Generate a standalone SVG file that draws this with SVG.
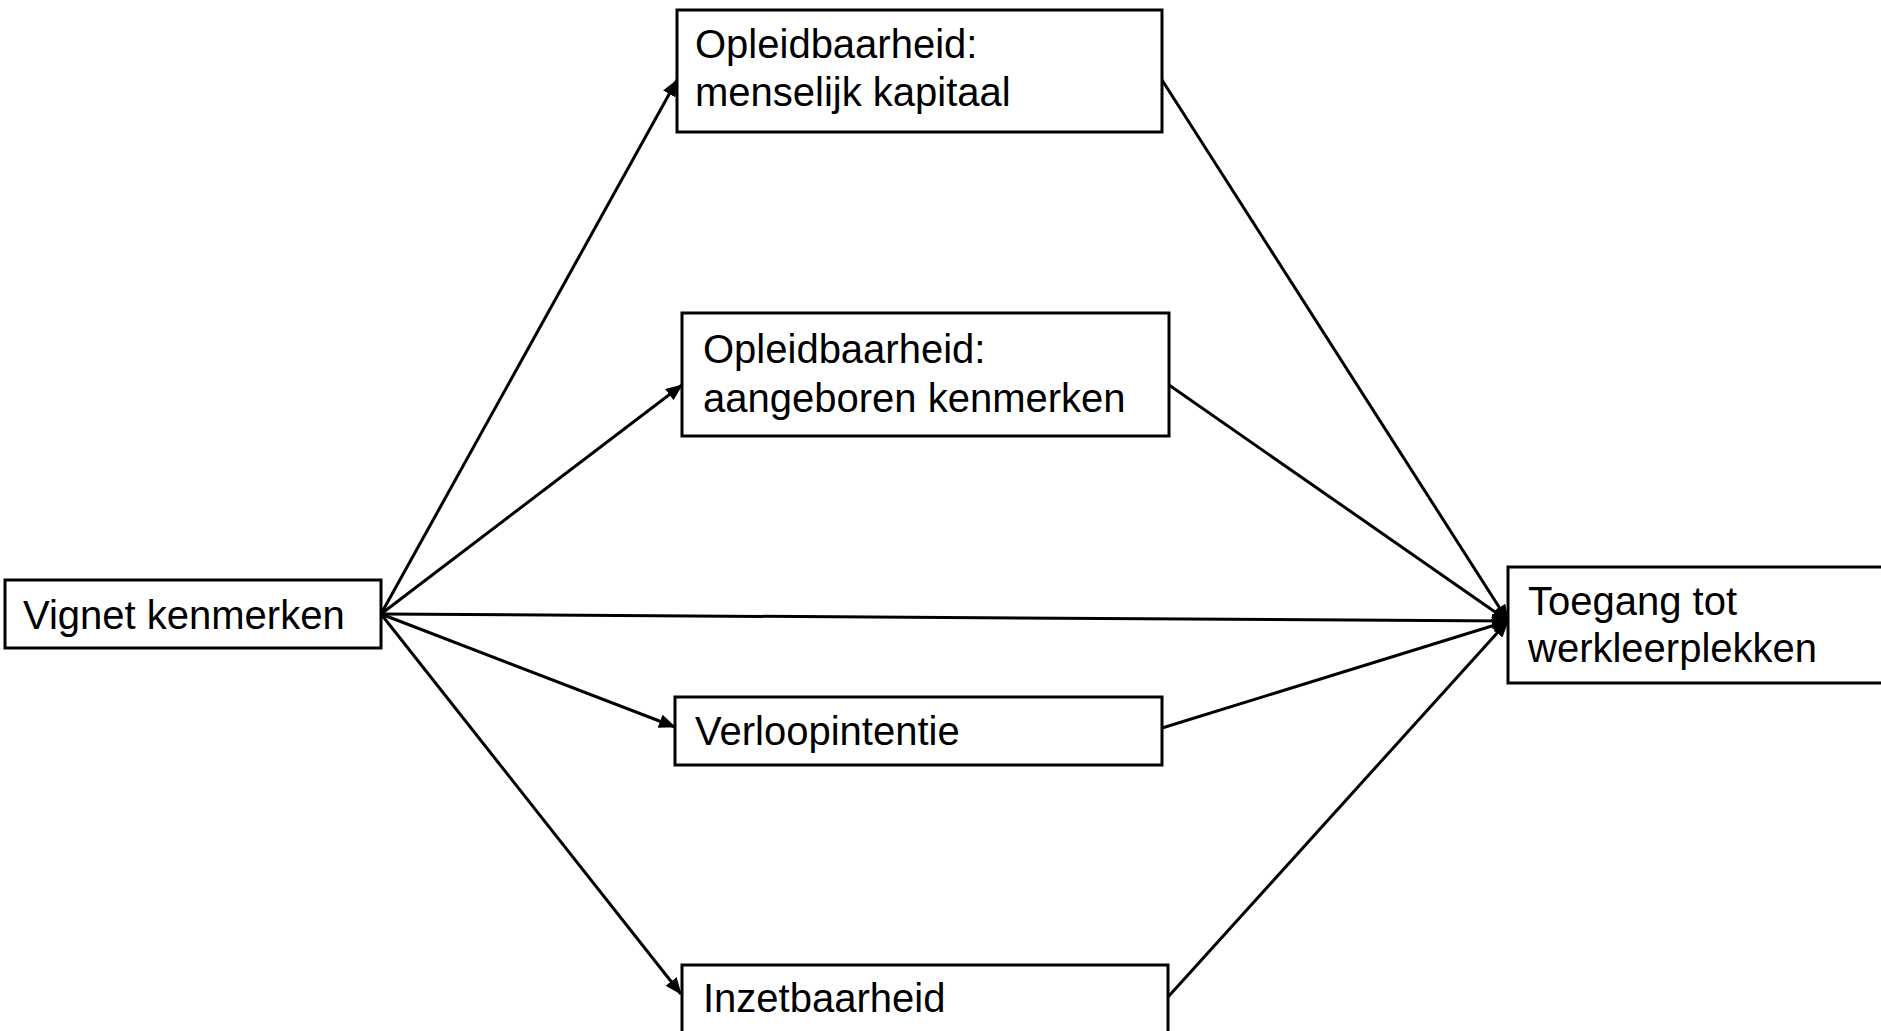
<svg xmlns="http://www.w3.org/2000/svg" width="1881" height="1031" viewBox="0 0 1881 1031">
<style>
.box{fill:#fff;stroke:#000;stroke-width:3}
.t{font-family:"Liberation Sans",Arial,sans-serif;font-size:40px;fill:#000}
.c{stroke:#000;stroke-width:3;fill:none;marker-end:url(#ah)}
</style>
<defs>
<marker id="ah" markerUnits="userSpaceOnUse" markerWidth="18" markerHeight="14" refX="16" refY="7" orient="auto">
<path d="M0,0 L17,7 L0,14 Z" fill="#000"/>
</marker>
</defs>
<rect width="1881" height="1031" fill="#fff"/>
<g id="connectors">
<line class="c" x1="381" y1="614" x2="677" y2="80"/>
<line class="c" x1="381" y1="614" x2="682" y2="385"/>
<line class="c" x1="381" y1="614" x2="675" y2="727"/>
<line class="c" x1="381" y1="614" x2="681" y2="994"/>
<line class="c" x1="381" y1="614" x2="1508" y2="621"/>
<line class="c" x1="1162" y1="80" x2="1508" y2="621"/>
<line class="c" x1="1169" y1="385" x2="1508" y2="621"/>
<line class="c" x1="1162" y1="728" x2="1508" y2="621"/>
<line class="c" x1="1168" y1="997" x2="1508" y2="621"/>
</g>
<g id="vignet">
<rect class="box" x="5" y="580" width="376" height="68"/>
<text class="t" x="23" y="629">Vignet kenmerken</text>
</g>
<g id="kapitaal">
<rect class="box" x="677" y="10" width="485" height="122"/>
<text class="t" x="695" y="58">Opleidbaarheid:</text>
<text class="t" x="695" y="106">menselijk kapitaal</text>
</g>
<g id="aangeboren">
<rect class="box" x="682" y="313" width="487" height="123"/>
<text class="t" x="703" y="363">Opleidbaarheid:</text>
<text class="t" x="703" y="412">aangeboren kenmerken</text>
</g>
<g id="verloop">
<rect class="box" x="675" y="697" width="487" height="68"/>
<text class="t" x="695" y="745">Verloopintentie</text>
</g>
<g id="inzet">
<rect class="box" x="682" y="965" width="486" height="80"/>
<text class="t" x="703" y="1012">Inzetbaarheid</text>
</g>
<g id="toegang">
<rect class="box" x="1508" y="567" width="380" height="116"/>
<text class="t" x="1528" y="615">Toegang tot</text>
<text class="t" x="1528" y="662">werkleerplekken</text>
</g>
</svg>
